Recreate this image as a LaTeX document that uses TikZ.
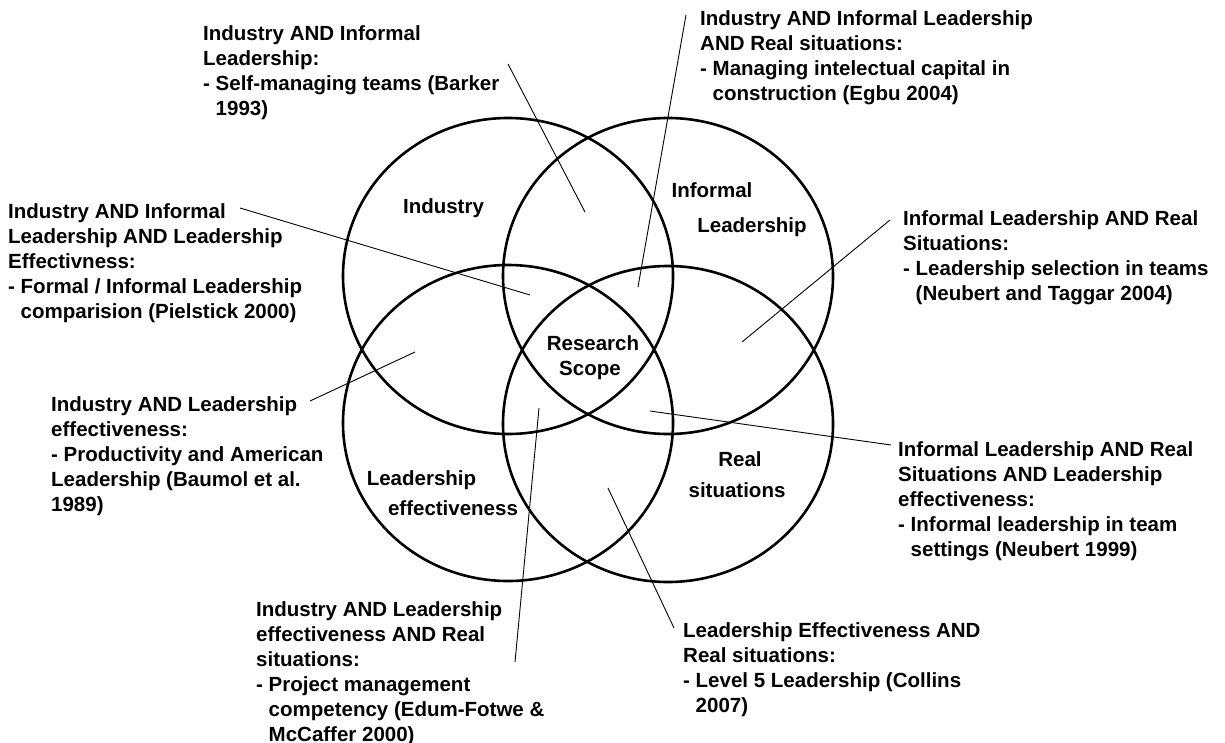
\documentclass[tikz,border=0pt]{standalone}
\usepackage{fontspec}
\setmainfont{Liberation Sans}
\newcommand\ind{\hphantom{-\ }}
\newcommand\fl{\rule{0pt}{18pt}}
\begin{document}
\begin{tikzpicture}[x=1pt,y=-1pt,
  circ/.style={line width=2.6pt},
  conn/.style={line width=0.9pt},
  lab/.style={font=\fontsize{20.5}{25}\selectfont\bfseries, inner sep=0pt, align=left, anchor=north west},
  cl/.style={font=\fontsize{20.5}{25}\selectfont\bfseries, inner sep=0pt, anchor=base}]
\useasboundingbox (0,0) rectangle (1225,742);
\fill[white] (0,0) rectangle (1225,742);
% circles
\draw[circ] (508,276) ellipse [x radius=165pt, y radius=158pt];
\draw[circ] (668,276) ellipse [x radius=165pt, y radius=158pt];
\draw[circ] (508,423) ellipse [x radius=165pt, y radius=158pt];
\draw[circ] (668,424) ellipse [x radius=165pt, y radius=158pt];
% circle labels
\node[cl] (ind) at (443.5,213) {Industry};
\node[cl] (inf1) at (712,197) {Informal};
\node[cl] (inf2) at (752,232) {Leadership};
\node[cl] (rs1) at (593,350) {Research};
\node[cl] (rs2) at (590,375) {Scope};
\node[cl] (le1) at (421.5,485) {Leadership};
\node[cl] (le2) at (453,515) {effectiveness};
\node[cl] (re1) at (740,466) {Real};
\node[cl] (re2) at (737,497) {situations};
% text blocks
\node[lab] (tA) at (203,22) {\fl Industry AND Informal\\Leadership:\\- Self-managing teams (Barker\\\ind 1993)};
\node[lab] (tB) at (700,7.7) {\fl Industry AND Informal Leadership\\AND Real situations:\\- Managing intelectual capital in\\\ind construction (Egbu 2004)};
\node[lab] (tC) at (8,200) {\fl Industry AND Informal\\Leadership AND Leadership\\Effectivness:\\- Formal / Informal Leadership\\\ind comparision (Pielstick 2000)};
\node[lab] (tD) at (903,207) {\fl Informal Leadership AND Real\\Situations:\\- Leadership selection in teams\\\ind (Neubert and Taggar 2004)};
\node[lab] (tE) at (51,393.5) {\fl Industry AND Leadership\\effectiveness:\\- Productivity and American\\Leadership (Baumol et al.\\1989)};
\node[lab] (tF) at (898,438) {\fl Informal Leadership AND Real\\Situations AND Leadership\\effectiveness:\\- Informal leadership in team\\\ind settings (Neubert 1999)};
\node[lab] (tG) at (256,598) {\fl Industry AND Leadership\\effectiveness AND Real\\situations:\\- Project management\\\ind competency (Edum-Fotwe \&\\\ind McCaffer 2000)};
\node[lab] (tH) at (683,619) {\fl Leadership Effectiveness AND\\Real situations:\\- Level 5 Leadership (Collins\\\ind 2007)};
% connector end points
\coordinate (aS) at (508,64);  \coordinate (aE) at (585,212);
\coordinate (bS) at (686,15);  \coordinate (bE) at (638,287);
\coordinate (cS) at (240,208); \coordinate (cE) at (530,295);
\coordinate (dS) at (890,220); \coordinate (dE) at (742,342);
\coordinate (eS) at (310,401); \coordinate (eE) at (415,352);
\coordinate (fS) at (891,445); \coordinate (fE) at (650,411);
\coordinate (gS) at (515,662); \coordinate (gE) at (539,408);
\coordinate (hS) at (674,628); \coordinate (hE) at (608,488);
\draw[conn] (aS) -- (aE);
\draw[conn] (bS) -- (bE);
\draw[conn] (cS) -- (cE);
\draw[conn] (dS) -- (dE);
\draw[conn] (eS) -- (eE);
\draw[conn] (fS) -- (fE);
\draw[conn] (gS) -- (gE);
\draw[conn] (hS) -- (hE);
\end{tikzpicture}
\end{document}
